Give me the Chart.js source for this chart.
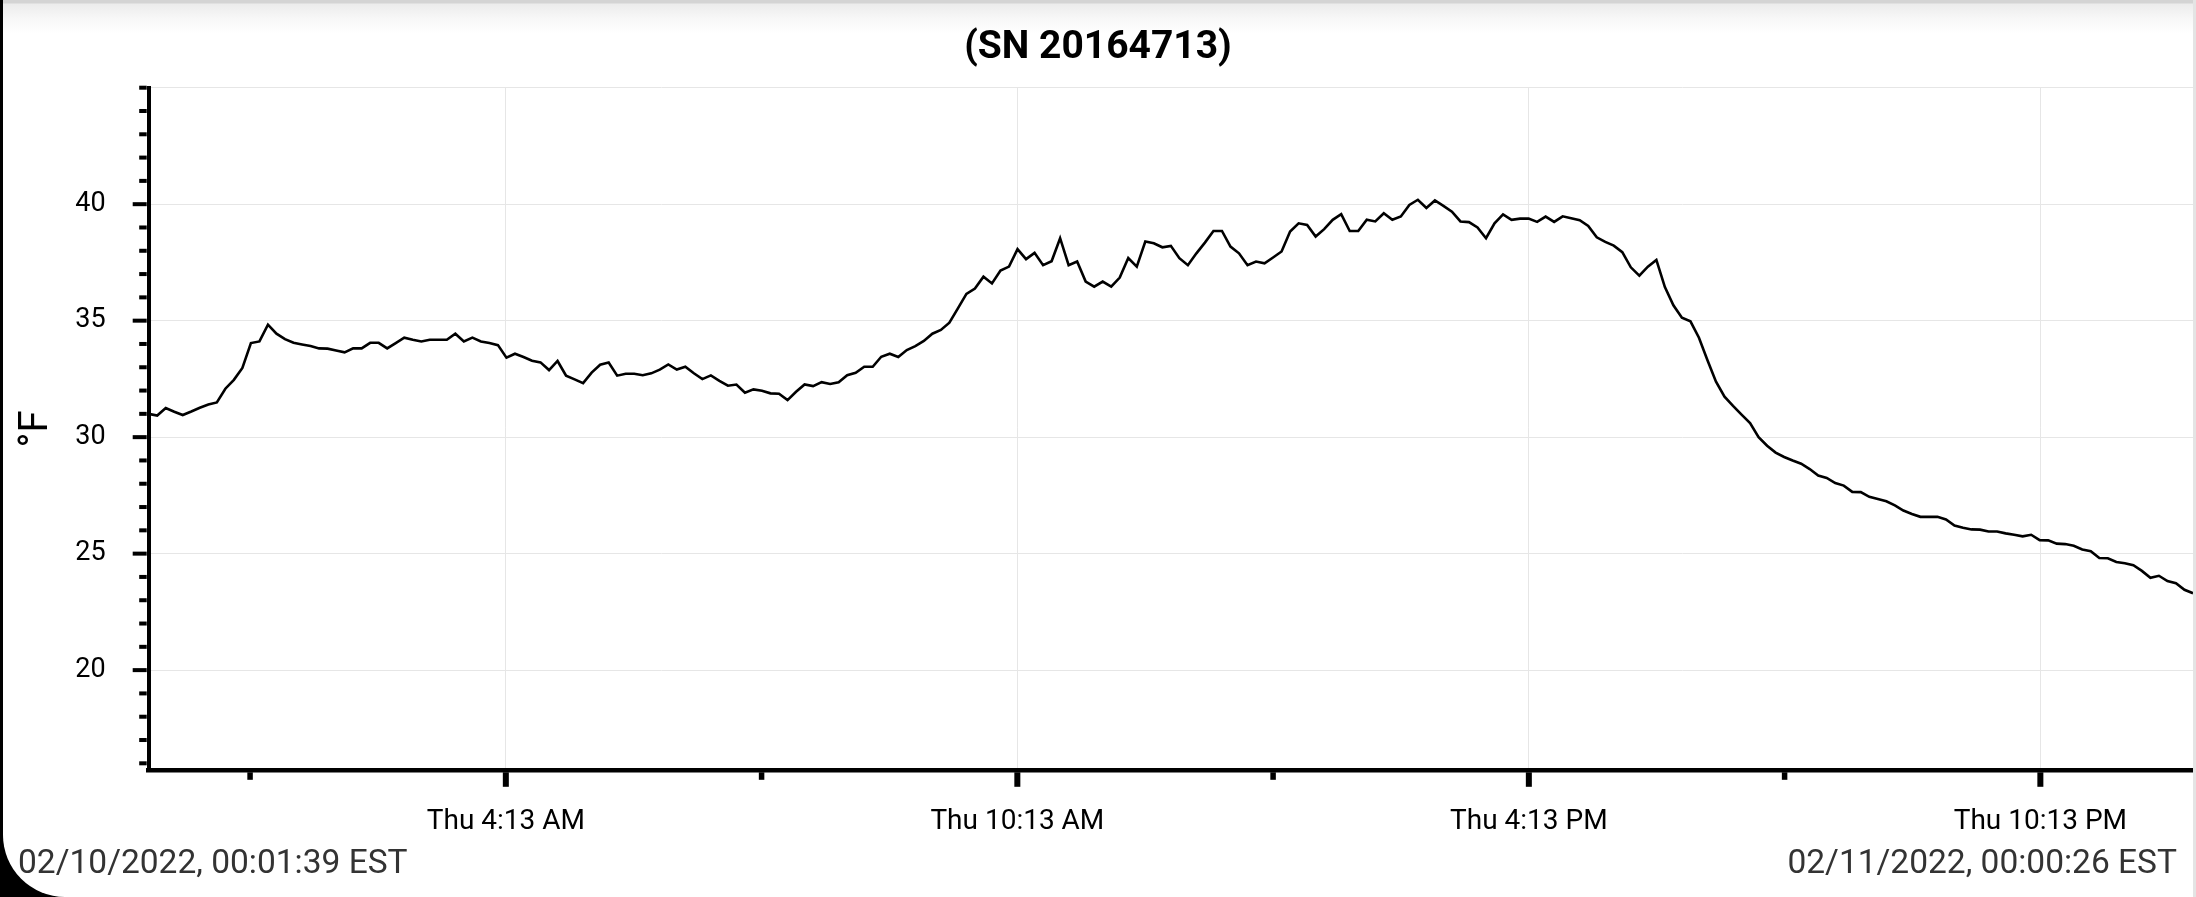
<!DOCTYPE html>
<html>
<head>
<meta charset="utf-8">
<title>(SN 20164713)</title>
<script src="https://cdn.jsdelivr.net/npm/chart.js@4.4.1/dist/chart.umd.min.js"></script>
<style>
    html, body {
        margin: 0;
        padding: 0;
        width: 2196px;
        height: 897px;
        overflow: hidden;
        background: #000;
        font-family: Roboto, sans-serif;
    }
    #card {
        position: absolute;
        left: 3px;
        top: 0;
        width: 2190px;
        height: 897px;
        background: #fff;
        border-bottom-left-radius: 62px;
        overflow: hidden;
    }
    #shade {
        position: absolute;
        left: 0;
        top: 0;
        width: 100%;
        height: 34px;
        background: linear-gradient(to bottom, #d4d4d4 0px, #d4d4d4 3px, #ececec 4px, #f7f7f7 18px, #ffffff 34px);
    }
    #chartBox {
        position: absolute;
        left: 0;
        top: 0;
        width: 2190px;
        height: 897px;
    }
    #rightEdge {
        position: absolute;
        left: 2193px;
        top: 0;
        width: 3px;
        height: 897px;
        background: #e4e4e4;
    }
    .stamp {
        position: absolute;
        top: 845px;
        font-size: 33.5px;
        line-height: 33.5px;
        color: #333;
        white-space: nowrap;
    }
</style>
</head>
<body>
<div id="card">
    <div id="shade"></div>
    <div id="chartBox"><canvas id="tempChart"></canvas></div>
    <div class="stamp" id="startStamp" style="left:15px;"></div>
    <div class="stamp" id="endStamp" style="right:16px;"></div>
</div>
<div id="rightEdge"></div>
<script>
// logger window
var startStamp = '02/10/2022, 00:01:39 EST';
var endStamp = '02/11/2022, 00:00:26 EST';
var spanMinutes = 1438.78; // minutes from first to last reading

// readings, °F, one every ~6 min
var tempF = [
    31.0, 30.93, 31.25, 31.09, 30.95, 31.1, 31.26, 31.4, 31.49, 32.08,
    32.46, 32.97, 34.04, 34.11, 34.83, 34.44, 34.21, 34.05, 33.98, 33.91,
    33.81, 33.8, 33.72, 33.64, 33.81, 33.81, 34.05, 34.05, 33.81, 34.04,
    34.27, 34.18, 34.11, 34.18, 34.18, 34.18, 34.44, 34.11, 34.27, 34.11,
    34.04, 33.95, 33.41, 33.58, 33.44, 33.28, 33.21, 32.88, 33.27, 32.64,
    32.48, 32.32, 32.77, 33.11, 33.2, 32.64, 32.72, 32.72, 32.66, 32.74,
    32.9, 33.12, 32.9, 33.02, 32.74, 32.49, 32.65, 32.42, 32.21, 32.26,
    31.91, 32.05, 31.99, 31.88, 31.86, 31.59, 31.95, 32.26, 32.19, 32.36,
    32.28, 32.36, 32.66, 32.76, 33.02, 33.02, 33.45, 33.58, 33.44, 33.74,
    33.91, 34.13, 34.44, 34.6, 34.91, 35.53, 36.15, 36.38, 36.89, 36.6,
    37.15, 37.32, 38.07, 37.64, 37.91, 37.38, 37.55, 38.54, 37.38, 37.54,
    36.68, 36.46, 36.68, 36.46, 36.85, 37.69, 37.32, 38.4, 38.32, 38.15,
    38.21, 37.68, 37.38, 37.89, 38.35, 38.85, 38.85, 38.18, 37.89, 37.38,
    37.54, 37.46, 37.71, 37.97, 38.83, 39.18, 39.11, 38.61, 38.93, 39.33,
    39.57, 38.85, 38.85, 39.33, 39.26, 39.61, 39.33, 39.47, 39.97, 40.19,
    39.84, 40.16, 39.93, 39.68, 39.26, 39.23, 39.0, 38.54, 39.18, 39.56,
    39.33, 39.38, 39.38, 39.24, 39.47, 39.24, 39.48, 39.4, 39.31, 39.07,
    38.58, 38.38, 38.22, 37.94, 37.29, 36.93, 37.32, 37.61, 36.44, 35.66,
    35.13, 34.97, 34.27, 33.3, 32.38, 31.74, 31.34, 30.97, 30.6, 30.0,
    29.63, 29.34, 29.15, 29.0, 28.86, 28.63, 28.35, 28.25, 28.03, 27.92,
    27.65, 27.64, 27.44, 27.35, 27.25, 27.07, 26.85, 26.7, 26.58, 26.58,
    26.58, 26.47, 26.21, 26.11, 26.04, 26.03, 25.95, 25.95, 25.87, 25.81,
    25.74, 25.81, 25.58, 25.57, 25.43, 25.41, 25.34, 25.18, 25.1, 24.81,
    24.8, 24.64, 24.59, 24.5, 24.26, 23.96, 24.05, 23.82, 23.73, 23.45,
    23.3
];

// x ticks, minutes after the first reading
var tickMinutes = [251.35, 611.35, 971.35, 1331.35];
var tickLabels = ['Thu 4:13 AM', 'Thu 10:13 AM', 'Thu 4:13 PM', 'Thu 10:13 PM'];
var minorTickMinutes = [71.35, 431.35, 791.35, 1151.35];

var yTicks = [20, 25, 30, 35, 40, 45];
var yMin = 15.7,
    yMax = 45;

document.getElementById('startStamp').textContent = startStamp;
document.getElementById('endStamp').textContent = endStamp;

//Засечки осей (большие и малые)
var axisTicks = {
    id: 'axisTicks',
    afterDraw: function (chart) {
        var ctx = chart.ctx,
            area = chart.chartArea,
            xs = chart.scales.x,
            ys = chart.scales.y;
        ctx.save();
        ctx.fillStyle = '#000';
        for (var v = Math.ceil(yMin); v <= yMax; v++) {
            var y = ys.getPixelForValue(v);
            var len = (v % 5 === 0 && v < yMax) ? 14 : 7.5;
            ctx.fillRect(area.left - 2 - len, y - 2, len, 4);
        }
        for (var i = 0; i < tickMinutes.length; i++) {
            ctx.fillRect(xs.getPixelForValue(tickMinutes[i]) - 3, area.bottom + 2, 6, 14.5);
        }
        for (var j = 0; j < minorTickMinutes.length; j++) {
            ctx.fillRect(xs.getPixelForValue(minorTickMinutes[j]) - 2.75, area.bottom + 2, 5.5, 7.5);
        }
        ctx.restore();
    }
};

var points = [];
for (var i = 0; i < tempF.length; i++) {
    points.push({x: i * spanMinutes / (tempF.length - 1), y: tempF[i]});
}

Chart.defaults.font.family = 'Roboto';
Chart.defaults.color = '#000';

var ctx = document.getElementById('tempChart');
var tempChart = new Chart(ctx, {
    type: 'line',
    data: {
        datasets: [{
            label: '°F',
            data: points,
            borderColor: '#000',
            borderWidth: 2.6,
            pointRadius: 0,
            fill: false,
            tension: 0
        }]
    },
    options: {
        responsive: true,
        maintainAspectRatio: false,
        animation: false,
        layout: {padding: 0},
        plugins: {
            legend: {display: false},
            tooltip: {enabled: false},
            title: {
                display: true,
                text: '(SN 20164713)',
                color: '#000',
                font: {size: 39, weight: 'bold'},
                padding: {top: 25, bottom: 15.9}
            }
        },
        scales: {
            x: {
                type: 'linear',
                min: 0,
                max: spanMinutes,
                afterBuildTicks: function (scale) {
                    scale.ticks = tickMinutes.map(function (m) { return {value: m}; });
                },
                afterFit: function (scale) {
                    scale.height = 126.7;
                },
                ticks: {
                    autoSkip: false,
                    maxRotation: 0,
                    padding: 35,
                    font: {size: 28},
                    callback: function (value, index) {
                        return tickLabels[index];
                    }
                },
                grid: {color: '#e6e6e6', lineWidth: 1, drawTicks: false},
                border: {color: '#000', width: 4.5}
            },
            y: {
                type: 'linear',
                min: yMin,
                max: yMax,
                afterBuildTicks: function (scale) {
                    scale.ticks = yTicks.map(function (v) { return {value: v}; });
                },
                afterFit: function (scale) {
                    scale.width = 145.7;
                },
                ticks: {
                    padding: 43,
                    font: {size: 27},
                    callback: function (value) {
                        return value < yMax ? String(value) : '';
                    }
                },
                grid: {color: '#e6e6e6', lineWidth: 1, drawTicks: false},
                border: {color: '#000', width: 4},
                title: {
                    display: true,
                    text: '°F',
                    color: '#000',
                    font: {size: 40},
                    padding: {top: 10, bottom: 0}
                }
            }
        }
    },
    plugins: [axisTicks]
});
</script>
</body>
</html>
